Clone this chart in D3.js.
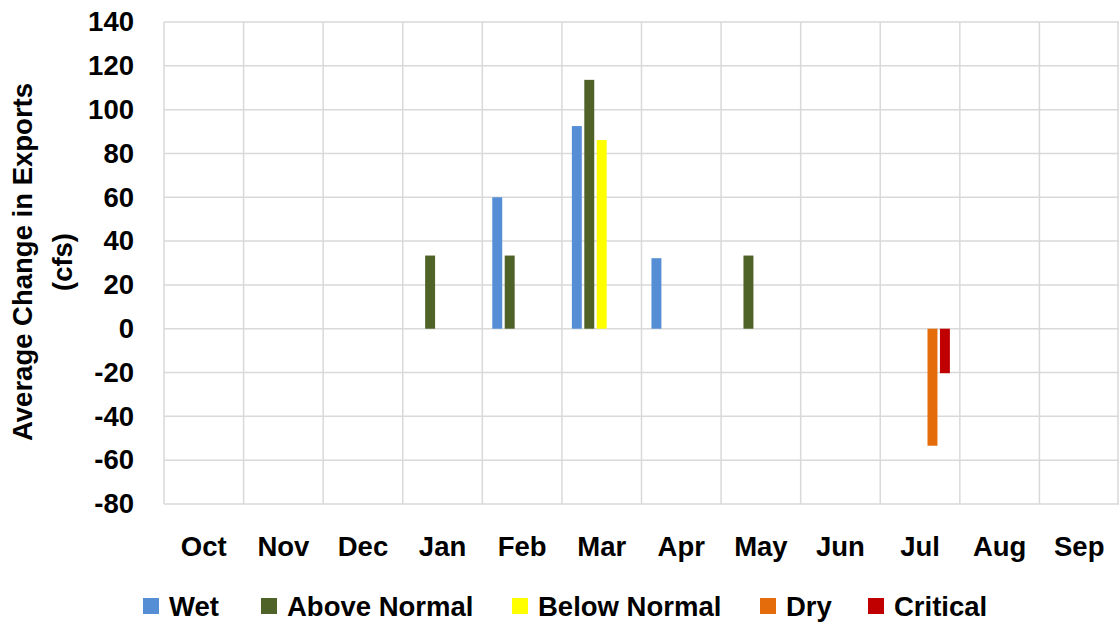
<!DOCTYPE html>
<html>
<head>
<meta charset="utf-8">
<script src="https://cdn.jsdelivr.net/npm/d3@7/dist/d3.min.js"></script>
<style>
  html, body { margin: 0; padding: 0; background: #fff; }
  svg { display: block; }
  text { font-family: "Liberation Sans", Arial, sans-serif; font-weight: bold; fill: #000; }
</style>
</head>
<body>
<svg id="chart" width="1119" height="624"></svg>
<script>
const months = ["Oct","Nov","Dec","Jan","Feb","Mar","Apr","May","Jun","Jul","Aug","Sep"];
const seriesNames = ["Wet","Above Normal","Below Normal","Dry","Critical"];
const seriesColors = ["#558ED5","#4F6228","#FFFF00","#E46C0A","#C00000"];
const wet         = [null,null,null,null,60,92.5,32.2,null,null,null,null,null];
const aboveNormal = [null,null,null,33.4,33.4,113.6,null,33.4,null,null,null,null];
const belowNormal = [null,null,null,null,null,86.1,null,null,null,null,null,null];
const dry         = [null,null,null,null,null,null,null,null,null,-53.4,null,null];
const critical    = [null,null,null,null,null,null,null,null,null,-20.3,null,null];
const yTicks = [140,120,100,80,60,40,20,0,-20,-40,-60,-80];

const seriesValues = [wet, aboveNormal, belowNormal, dry, critical];

const svg = d3.select("#chart");
const FS = 27.5;
const plot = {left: 164, right: 1119, top: 22, bottom: 504};

const x = d3.scaleBand().domain(months).range([plot.left, plot.right]).padding(0);
const y = d3.scaleLinear().domain([-80, 140]).range([plot.bottom, plot.top]);
const xi = d3.scaleBand().domain(seriesNames)
  .range([x.bandwidth() * 0.125, x.bandwidth() * 0.875])
  .paddingInner(0.2).paddingOuter(0);

const grid = svg.append("g");
grid.selectAll("line.h").data(yTicks).enter().append("line")
  .attr("x1", plot.left).attr("x2", plot.right)
  .attr("y1", d => y(d)).attr("y2", d => y(d))
  .attr("stroke", "#d9d9d9").attr("stroke-width", 1.5);
const bounds = months.map(m => x(m)).concat([plot.right - 1]);
grid.selectAll("line.v").data(bounds).enter().append("line")
  .attr("x1", d => d).attr("x2", d => d)
  .attr("y1", plot.top).attr("y2", plot.bottom)
  .attr("stroke", "#d9d9d9").attr("stroke-width", 1.5);

const bars = svg.append("g");
seriesValues.forEach((vals, si) => {
  bars.selectAll(null).data(vals.map((v, i) => ({v, m: months[i]})).filter(d => d.v !== null))
    .enter().append("rect")
    .attr("x", d => x(d.m) + xi(seriesNames[si]))
    .attr("width", xi.bandwidth())
    .attr("y", d => y(Math.max(0, d.v)))
    .attr("height", d => Math.abs(y(d.v) - y(0)))
    .attr("fill", seriesColors[si]);
});

const yAxis = d3.axisLeft(y).tickValues(yTicks).tickSize(0).tickPadding(0)
  .tickFormat(d => String(d));
const gy = svg.append("g").attr("transform", `translate(134,0)`).call(yAxis);
gy.select(".domain").remove();
gy.selectAll("text").attr("font-size", FS).attr("font-family", "Liberation Sans, Arial, sans-serif")
  .attr("font-weight", "bold").attr("fill", "#000");

const xAxis = d3.axisBottom(x).tickSize(0).tickPadding(0);
const gx = svg.append("g").attr("transform", `translate(0,556)`).call(xAxis);
gx.select(".domain").remove();
gx.selectAll("text").attr("font-size", FS).attr("dy", 0).attr("y", 0)
  .attr("font-family", "Liberation Sans, Arial, sans-serif")
  .attr("font-weight", "bold").attr("fill", "#000");

const yt = svg.append("text")
  .attr("transform", "translate(0,262) rotate(-90)")
  .attr("text-anchor", "middle").attr("font-size", FS);
yt.append("tspan").attr("x", 0).attr("y", 32).text("Average Change in Exports");
yt.append("tspan").attr("x", 0).attr("y", 72).text("(cfs)");

const legendX = [143, 261, 512, 760, 868];
const lg = svg.append("g");
seriesNames.forEach((name, i) => {
  const g = lg.append("g").attr("transform", `translate(${legendX[i]},0)`);
  g.append("rect").attr("x", 0).attr("y", 598).attr("width", 16).attr("height", 16)
    .attr("fill", seriesColors[i]);
  g.append("text").attr("x", 26).attr("y", 616).attr("font-size", FS).text(name);
});
</script>
</body>
</html>
